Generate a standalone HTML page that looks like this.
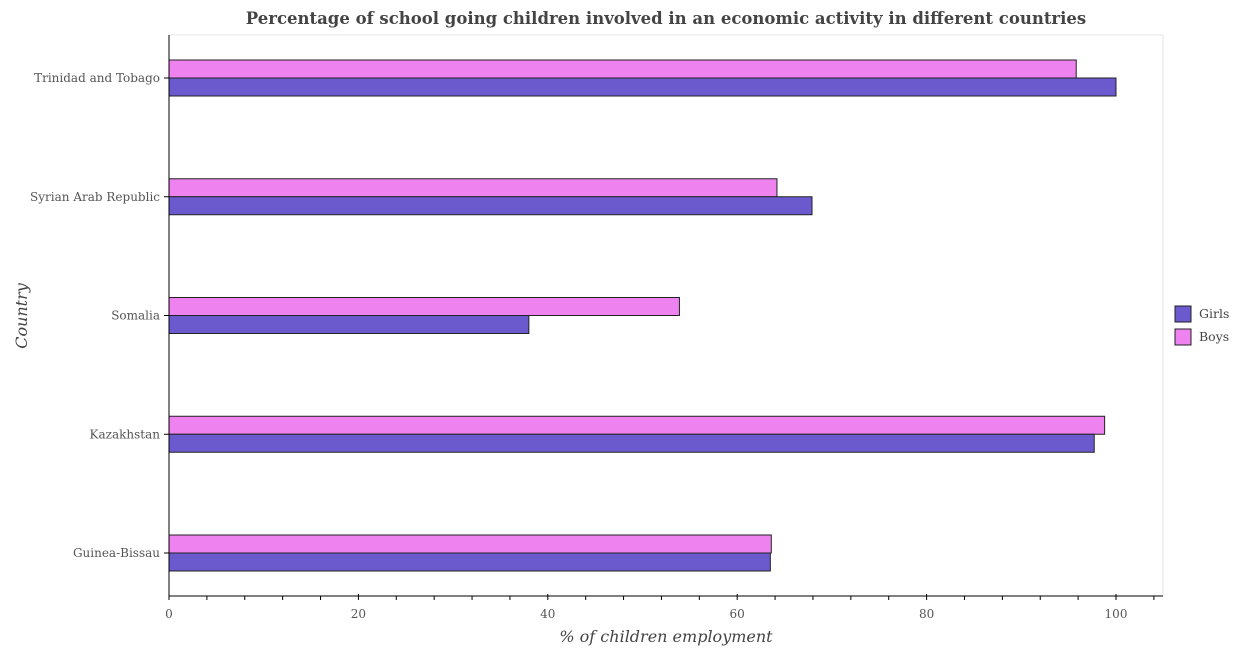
<!DOCTYPE html>
<html><head><meta charset="utf-8"><style>
body{margin:0;background:#fff;}
svg text{font-family:"DejaVu Serif","Liberation Serif",serif;}
</style></head><body>
<svg id="chart" width="1235" height="650" xmlns="http://www.w3.org/2000/svg">
<text x="666" y="24" text-anchor="middle" font-size="16.5" font-weight="bold" fill="#444">Percentage of school going children involved in an economic activity in different countries</text>
<rect x="169" y="35" width="994" height="561" fill="none" stroke="#e6e6e6" stroke-width="1"/>
<g id="bars"></g>
<g id="axes"></g>
<text x="666" y="642" text-anchor="middle" font-size="16" font-style="italic" fill="#444">% of children employment</text>
<text transform="translate(27,316) rotate(-90)" text-anchor="middle" font-size="16" font-style="italic" fill="#444">Country</text>
<g>
<rect x="1175" y="306" width="16" height="16" fill="#6a5acd" stroke="#222"/>
<text x="1199" y="318" font-size="12.5" fill="#444">Girls</text>
<rect x="1175" y="329" width="16" height="16" fill="#ee82ee" stroke="#222"/>
<text x="1199" y="341" font-size="12.5" fill="#444">Boys</text>
</g>
</svg>
<script>
const categories=["Trinidad and Tobago","Syrian Arab Republic","Somalia","Kazakhstan","Guinea-Bissau"];
const girls=[100,67.9,38.0,97.7,63.5];
const boys=[95.8,64.2,53.9,98.8,63.6];
const xTicks=[0,20,40,60,80,100];
const NS="http://www.w3.org/2000/svg";
const X0=169,XS=9.47,TOP=35,BOT=596,Y0=78,STEP=118.75,BH=18;
const xs=v=>X0+v*XS;
const yc=i=>Y0+i*STEP;
function mk(t,a){const e=document.createElementNS(NS,t);for(const k in a)e.setAttribute(k,a[k]);return e;}
const bars=document.getElementById('bars'),axes=document.getElementById('axes');
categories.forEach((c,i)=>{
  const b=mk('rect',{x:xs(0),y:yc(i)-BH,width:xs(boys[i])-xs(0),height:BH,fill:'#ee82ee',stroke:'#222','stroke-width':1});
  
  
  bars.appendChild(b);
  const g=mk('rect',{x:xs(0),y:yc(i),width:xs(girls[i])-xs(0),height:BH,fill:'#6a5acd',stroke:'#222','stroke-width':1});
  
  
  bars.appendChild(g);
  const tk=mk('line',{x1:X0-5,x2:X0,y1:yc(i),y2:yc(i),stroke:'#000'});
  
  
  axes.appendChild(tk);
  const t=mk('text',{x:X0-9,y:yc(i)+4,'text-anchor':'end','font-size':12,fill:'#555'});
  t.textContent=c;
  
  
  axes.appendChild(t);
});
for(let v=0;v<=104;v+=4){
  const major=v%20===0;
  const l=mk('line',{x1:xs(v),x2:xs(v),y1:BOT-(major?2:0),y2:BOT+4,stroke:'#000'});
  
  
  axes.appendChild(l);
}
xTicks.forEach(v=>{
  const t=mk('text',{x:xs(v),y:BOT+22,'text-anchor':'middle','font-size':12,fill:'#555'});
  t.textContent=v;
  
  
  axes.appendChild(t);
});
const ya=mk('line',{x1:X0,x2:X0,y1:TOP,y2:BOT,stroke:'#000'});


axes.appendChild(ya);
const xa=mk('line',{x1:X0,x2:1163,y1:BOT,y2:BOT,stroke:'#000'});


axes.appendChild(xa);
</script>
</body></html>
